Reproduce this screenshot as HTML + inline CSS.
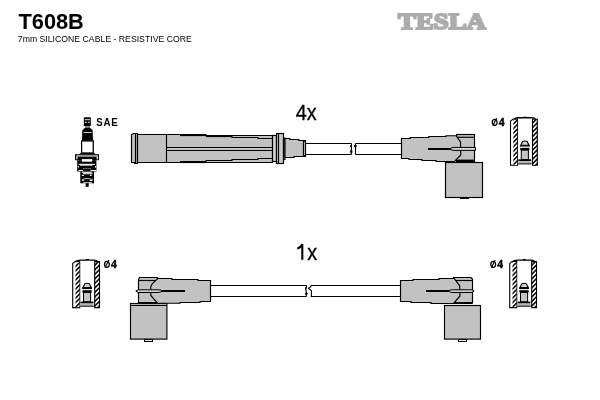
<!DOCTYPE html>
<html><head><meta charset="utf-8">
<style>
html,body{margin:0;padding:0;background:#fff;width:600px;height:400px;overflow:hidden}
svg{display:block;transform:translateZ(0)}
</style></head><body>
<svg width="600" height="400" viewBox="0 0 600 400" font-family="Liberation Sans, sans-serif">
<defs>
  <pattern id="hatch" patternUnits="userSpaceOnUse" width="3.2" height="3.2" patternTransform="rotate(-45)">
    <rect width="3.2" height="3.2" fill="#fff"/>
    <rect width="3.2" height="1.5" fill="#000"/>
  </pattern>
  <g id="term">
    <path d="M3.6,2.4 Q5,0.5 8,0.5 L22,0.5 Q24.6,0.5 25.6,2.2" fill="none" stroke="#000" stroke-width="1.4"/><rect x="13.6" y="-0.6" width="3" height="1.2" fill="#000"/>
    <path d="M0.5,3.8 L3.2,1.8 L7.5,1.8 L7.5,48 L0.5,48 Z" fill="#fff" stroke="#000" stroke-width="1.1"/>
    <rect x="3.3" y="2.8" width="3.9" height="44.8" fill="url(#hatch)"/>
    <path d="M22.5,2 L27.3,2 L27.3,48 L22.5,48 Z" fill="url(#hatch)" stroke="#000" stroke-width="1.1"/>
    <path d="M10.8,27.9 L12.6,24.2 Q14.9,23.2 17.2,24.2 L19,27.9 Z" fill="#cfcfcf" stroke="#000" stroke-width="1.1"/>
    <rect x="9.9" y="27.9" width="9.9" height="1.5" fill="#000"/>
    <rect x="10.7" y="29.4" width="8.3" height="1.2" fill="#e6e6e6"/>
    <rect x="10.2" y="30.6" width="9.3" height="2.3" fill="#000"/>
    <rect x="11.3" y="32.9" width="7.1" height="9.3" fill="#c4c4c4" stroke="#000" stroke-width="1"/>
    <rect x="8.4" y="42" width="12.8" height="1.9" fill="#000"/>
    <rect x="8.2" y="43.9" width="13.2" height="2.3" fill="#b4b4b4"/>
    <rect x="8" y="46.1" width="13.6" height="1" fill="#000"/>
  </g>
</defs>

<!-- Title -->
<text transform="translate(18.5,28.8) scale(0.99,1)" font-weight="bold" font-size="22" fill="#000">T608B</text>
<text x="17.8" y="41.8" font-size="9.3" fill="#000" textLength="174" lengthAdjust="spacingAndGlyphs">7mm SILICONE CABLE - RESISTIVE CORE</text>

<!-- TESLA logo -->
<text x="398" y="28.7" font-family="Liberation Serif, serif" font-weight="bold" font-size="23.5" fill="#acacac" stroke="#acacac" stroke-width="2" stroke-linejoin="miter" textLength="88" lengthAdjust="spacingAndGlyphs">TESLA</text>

<!-- quantities -->
<text transform="translate(295.7,119.9) scale(0.885,1)" font-size="22.3" fill="#000" stroke="#000" stroke-width="0.35">4x</text>
<path d="M297.3,248.7 C299.6,247.8 301.3,246.3 302.3,244.2 L302.3,259.8" fill="none" stroke="#000" stroke-width="2.1"/><text transform="translate(307.3,259.9) scale(0.885,1)" font-size="22.3" fill="#000" stroke="#000" stroke-width="0.35">x</text>

<!-- SAE + spark plug -->
<text transform="translate(96.2,126) scale(0.93,1)" font-weight="bold" font-size="10.5" letter-spacing="0.8" fill="#000">SAE</text>
<g id="plug">
  <rect x="83.8" y="117.3" width="7" height="8.7" fill="#000"/>
  <rect x="84.8" y="119.3" width="5.2" height="0.9" fill="#fff"/>
  <rect x="84.8" y="121.8" width="2" height="0.9" fill="#fff"/>
  <rect x="87.8" y="121.8" width="2" height="0.9" fill="#fff"/>
  <rect x="85" y="126" width="5" height="1.9" fill="#8a8a8a"/>
  <path d="M85,127.8 L90,127.8 L92.6,130.3 L93,140.4 L82,140.4 L82.3,130.3 Z" fill="#000"/>
  <rect x="83.5" y="132" width="8" height="0.8" fill="#fff"/>
  <rect x="81" y="140.2" width="12.9" height="12.6" fill="#000"/>
  <rect x="82.2" y="141.6" width="10.4" height="11.0" fill="#fff"/>
  <path d="M81,152.6 L93.9,152.6 L95.5,154.3 L79.5,154.3 Z" fill="#000"/>
  <rect x="75" y="154.2" width="24" height="6" fill="#000"/>
  <rect x="76.3" y="155.4" width="21.5" height="1.1" fill="#fff"/>
  <rect x="76.3" y="156.5" width="1.2" height="2.8" fill="#fff"/>
  <rect x="96.6" y="156.5" width="1.2" height="2.8" fill="#fff"/>
  <rect x="77.2" y="160.2" width="19.2" height="11.3" fill="#000"/>
  <rect x="81.9" y="159.1" width="10.3" height="2.6" fill="#fff"/>
  <rect x="78.6" y="163.8" width="16.4" height="1.05" fill="#fff"/>
  <rect x="80" y="164.6" width="12.6" height="1.05" fill="#fff"/>
  <rect x="77.9" y="166" width="1" height="1.6" fill="#fff"/>
  <rect x="95" y="166" width="1" height="1.6" fill="#fff"/>
  <rect x="83.5" y="168.2" width="0.9" height="1.05" fill="#fff"/>
  <rect x="85.6" y="168.2" width="0.9" height="1.05" fill="#fff"/>
  <rect x="87.7" y="168.2" width="0.9" height="1.05" fill="#fff"/>
  <rect x="89.8" y="168.2" width="0.9" height="1.05" fill="#fff"/>
  <rect x="78.6" y="170" width="4.3" height="1.05" fill="#fff"/>
  <rect x="90.5" y="170" width="5.6" height="1.05" fill="#fff"/>
  <rect x="80.3" y="171.4" width="13.7" height="11.9" fill="#000"/>
  <rect x="82.1" y="171.8" width="9.8" height="1.05" fill="#fff"/>
  <rect x="82.8" y="173.2" width="9.8" height="1.05" fill="#fff"/>
  <rect x="81.8" y="174.9" width="2.1" height="1.05" fill="#fff"/>
  <rect x="89.8" y="174.9" width="1.8" height="1.05" fill="#fff"/>
  <path d="M82.1,179 Q86.5,177.4 92.6,179 L92.6,179.7 Q86.5,178.2 82.1,179.7 Z" fill="#fff"/>
  <rect x="82.1" y="179.8" width="2.1" height="1.05" fill="#fff"/>
  <rect x="89.8" y="179.8" width="2.8" height="1.05" fill="#fff"/>
  <rect x="83.2" y="182.3" width="8.7" height="1.05" fill="#fff"/>
  <rect x="85.6" y="183.2" width="3.1" height="3.6" fill="#000"/>
</g>

<!-- ===== TOP ROW: straight boot ===== -->
<g stroke="#000" stroke-width="1.15" fill="#c2c2c2">
  <!-- left flange -->
  <path d="M131.5,134.8 L132.6,134 L133.5,133.5 L137.5,133.5 L137.5,163.5 L134.5,163.5 L134.5,162.5 L131.5,162.5 Z"/>
  <line x1="135.5" y1="133.5" x2="135.5" y2="163.5"/>
  <!-- body -->
  <path d="M137.5,134.5 L206,134.5 L206,135.5 L272.5,135.5 L272.5,162.5 L137.5,162.5 Z"/>
  <line x1="166.5" y1="134.5" x2="166.5" y2="162.5"/>
  <line x1="166.5" y1="147.5" x2="272.5" y2="147.5"/>
  <line x1="166.5" y1="150.5" x2="272.5" y2="150.5"/>
  <!-- step bands -->
  <rect x="180" y="134" width="26" height="2.1" fill="#000" stroke="none"/>
  <rect x="206" y="135" width="26" height="2.1" fill="#000" stroke="none"/>
  <rect x="180" y="161" width="26" height="2.1" fill="#000" stroke="none"/>
  <path d="M206,162.5 L206,160.5 L232,160.5 L232,159.5 L258,159.5 L258,158.5 L272.5,158.5" fill="none"/>
  <path d="M232,136 L232,137.5 L258,137.5 L258,138.5 L272.5,138.5" fill="none"/>
  <!-- gap band -->
  <rect x="272.5" y="135.5" width="4" height="26" fill="#cdcdcd"/>
  <!-- right flange -->
  <rect x="276.5" y="133.5" width="7" height="30" fill="#c8c8c8"/>
  <line x1="278.5" y1="133.5" x2="278.5" y2="163.5"/>
  <!-- collar -->
  <rect x="283.5" y="138" width="1.5" height="21.5"/>
  <!-- neck -->
  <path d="M285,138.5 L289.8,138.5 L289.8,139.5 L298.8,139.5 L298.8,140.5 L303.5,140.5 L303.5,156.5 L294,156.5 L294,157.5 L285,157.5 Z"/>
  <rect x="303.5" y="140.5" width="2" height="16" fill="#d0d0d0"/>
</g>

<!-- top cable -->
<g stroke="#000" stroke-width="1.1" fill="none">
  <line x1="305.5" y1="143.5" x2="351.5" y2="143.5"/>
  <line x1="305.5" y1="154.5" x2="351.5" y2="154.5"/>
  <path d="M351.5,143.5 L351.5,145.2 L350.6,146.2 L351.5,147.2 L351.5,150.5 Q350.4,151.6 351.2,152.6 L351.5,154.5"/>
  <line x1="355.5" y1="143.5" x2="401.5" y2="143.5"/>
  <line x1="355.5" y1="154.5" x2="401.5" y2="154.5"/>
  <path d="M355.5,143.5 L355.5,145 Q354.2,146 355.6,147.2 L355.5,150 L355.5,154.5"/>
  <rect x="350" y="150.4" width="2.4" height="2.2" fill="#000" stroke="none"/>
  <rect x="354.3" y="145" width="2.3" height="2.2" fill="#000" stroke="none"/>
  <rect x="350.3" y="145.3" width="1.4" height="1.6" fill="#000" stroke="none"/>
</g>

<!-- top angled boot -->
<g stroke="#000" stroke-width="1.15" fill="#c2c2c2">
  <rect x="445.5" y="162.5" width="37" height="35"/>
  <rect x="460" y="197" width="9" height="2" fill="#000" stroke="none"/>
  <rect x="456.5" y="134.5" width="18" height="27"/>
  <line x1="456.5" y1="137.3" x2="474.5" y2="137.3"/>
  <rect x="456.5" y="159.6" width="18" height="2" fill="#000" stroke="none"/>
  <path d="M401.5,138.5 H410.3 V137.5 H428.8 V136.5 H446 V135.7 H456 L460.5,141.8 L460.8,155 L454.5,161.5 H436 V160.5 H422 V159.5 H409 V158.5 H401.5 Z"/>
  <path d="M428,147.9 H451 L453,148.9 L451,149.9 H428 Z" fill="#000" stroke="none"/>
  <path d="M451,148 L454,147.4 H475.5 V150.4 H454 L451,149.8" fill="#d4d4d4" stroke-width="1"/>
</g>

<!-- top right terminal -->
<g class="dia" transform="translate(491.8,126)"><ellipse cx="2.9" cy="-3.6" rx="2.4" ry="3" fill="none" stroke="#000" stroke-width="1.3"/><line x1="1" y1="-0.2" x2="4.9" y2="-8" stroke="#000" stroke-width="1.1"/><text x="7" y="0" font-family="Liberation Serif, serif" font-weight="bold" font-size="11.5" fill="#000" stroke="#000" stroke-width="0.5" textLength="5.8" lengthAdjust="spacingAndGlyphs">4</text></g>
<use href="#term" x="510" y="117.3"/>

<!-- ===== BOTTOM ROW ===== -->
<g class="dia" transform="translate(104,268)"><ellipse cx="2.9" cy="-3.6" rx="2.4" ry="3" fill="none" stroke="#000" stroke-width="1.3"/><line x1="1" y1="-0.2" x2="4.9" y2="-8" stroke="#000" stroke-width="1.1"/><text x="7" y="0" font-family="Liberation Serif, serif" font-weight="bold" font-size="11.5" fill="#000" stroke="#000" stroke-width="0.5" textLength="5.8" lengthAdjust="spacingAndGlyphs">4</text></g>
<use href="#term" x="72.2" y="259.6"/>

<!-- bottom left angled boot (mirrored) -->
<g stroke="#000" stroke-width="1.15" fill="#c2c2c2">
  <rect x="130.5" y="303.5" width="36.4" height="35.6"/>
  <line x1="130.5" y1="305.5" x2="166.9" y2="305.5"/>
  <rect x="144.5" y="339.5" width="8" height="2" fill="#fff" stroke-width="1"/>
  <path d="M139.5,277.5 H157.5 V303 H138.5 V280 Z"/>
  <line x1="138.5" y1="280.5" x2="157.5" y2="280.5"/>
  <rect x="138.5" y="302" width="19" height="2" fill="#000" stroke="none"/>
  <path d="M210.5,280.5 H198 V279.5 H172 V278.5 H157.8 L152.4,283.5 L150.8,286.5 V295.5 L157.5,303.2 H180 V302.5 H200 V301.5 H210.5 Z"/>
  <path d="M185,290 H161 L159,291 L161,292 H185 Z" fill="#000" stroke="none"/>
  <path d="M161,290 L158,289.8 H138 L135.8,291.1 L138,292.5 H158 L161,292" fill="#d4d4d4" stroke-width="1"/>
</g>

<!-- bottom cable -->
<g stroke="#000" stroke-width="1.1" fill="none">
  <line x1="210.5" y1="285.5" x2="306.5" y2="285.5"/>
  <line x1="210.5" y1="296.5" x2="306.5" y2="296.5"/>
  <path d="M306.5,285.5 L306.5,287 L305.6,288.2 L306,290.5 L306.5,292.5 Q305.4,293.6 306.2,294.6 L306.5,296.5"/>
  <line x1="310.8" y1="285.5" x2="400.5" y2="285.5"/>
  <line x1="310.8" y1="296.5" x2="400.5" y2="296.5"/>
  <path d="M310.8,285.5 L310.8,286.8 L308.5,288.4 L311.4,290.8 L311.4,296.5"/>
  <rect x="305" y="292.8" width="2.6" height="1.8" fill="#000" stroke="none"/>
  <rect x="305.2" y="287.5" width="1.4" height="2" fill="#000" stroke="none"/>
</g>

<!-- bottom right angled boot -->
<g stroke="#000" stroke-width="1.15" fill="#c2c2c2">
  <rect x="444.5" y="305.5" width="36" height="33.6"/>
  <rect x="458.5" y="339.5" width="8" height="2" fill="#fff" stroke-width="1"/>
  <path d="M453.5,277.5 H471 L472.5,279 V303 H453.5 Z"/>
  <line x1="453.5" y1="280.5" x2="472.5" y2="280.5"/>
  <rect x="453.5" y="302" width="19" height="2" fill="#000" stroke="none"/>
  <path d="M400.5,280.5 H413 V279.5 H439 V278.5 H454.2 L459.7,285.8 L460,296 L453.5,303.5 H431 V302.5 H411 V301.5 H400.5 Z"/>
  <path d="M426,290 H450 L452,291 L450,292 H426 Z" fill="#000" stroke="none"/>
  <path d="M450,290 L452,289.8 H472 L474.2,291.1 L472,292.5 H452 L450,292" fill="#d4d4d4" stroke-width="1"/>
</g>

<!-- bottom right terminal -->
<g class="dia" transform="translate(490.3,268)"><ellipse cx="2.9" cy="-3.6" rx="2.4" ry="3" fill="none" stroke="#000" stroke-width="1.3"/><line x1="1" y1="-0.2" x2="4.9" y2="-8" stroke="#000" stroke-width="1.1"/><text x="7" y="0" font-family="Liberation Serif, serif" font-weight="bold" font-size="11.5" fill="#000" stroke="#000" stroke-width="0.5" textLength="5.8" lengthAdjust="spacingAndGlyphs">4</text></g>
<use href="#term" x="509.2" y="259.6"/>

</svg>
</body></html>
